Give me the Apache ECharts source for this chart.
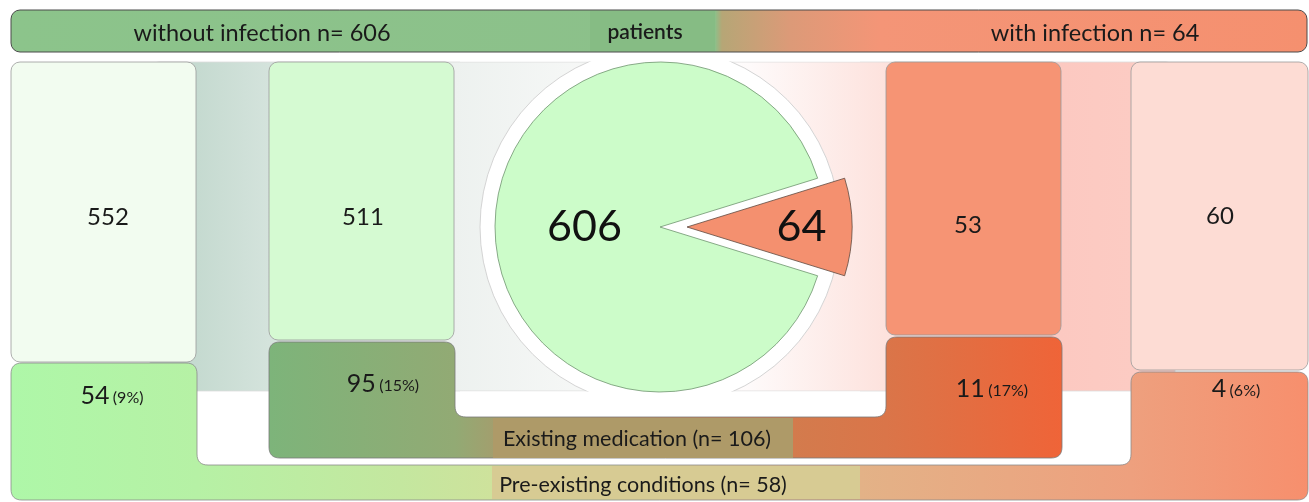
<!DOCTYPE html>
<html>
<head>
<meta charset="utf-8">
<script src="https://cdn.jsdelivr.net/npm/echarts@6/dist/echarts.min.js"></script>
<style>
  html, body { margin: 0; padding: 0; background: #ffffff; }
  #chart { width: 1309px; height: 502px; }
</style>
</head>
<body>
<div id="chart"></div>
<script>
// Patient groups and counts
const groupNames = ['without infection', 'with infection'];
const patientTotals = [606, 64];
const withoutCondition = [552, 60];
const withCondition = [54, 4];
const conditionPct = [9, 6];
const withoutMedication = [511, 53];
const withMedication = [95, 11];
const medicationPct = [15, 17];

const medicationTotal = withMedication[0] + withMedication[1];
const conditionTotal = withCondition[0] + withCondition[1];
const patientSum = patientTotals[0] + patientTotals[1];

const FONT = 'Lato, "Open Sans", sans-serif';
const INK = '#1a1a1a';

const chart = echarts.init(document.getElementById('chart'), null, { renderer: 'canvas' });

// Polygon with rounded corners (quadratic curve at each vertex)
function roundPoly(pts, r) {
  const out = [];
  const n = pts.length;
  for (let i = 0; i < n; i++) {
    const p = pts[i], a = pts[(i - 1 + n) % n], b = pts[(i + 1) % n];
    const la = Math.hypot(a[0] - p[0], a[1] - p[1]);
    const lb = Math.hypot(b[0] - p[0], b[1] - p[1]);
    const rr = Math.min(r, la / 2, lb / 2);
    const s = [p[0] + (a[0] - p[0]) / la * rr, p[1] + (a[1] - p[1]) / la * rr];
    const e = [p[0] + (b[0] - p[0]) / lb * rr, p[1] + (b[1] - p[1]) / lb * rr];
    for (let k = 0; k <= 8; k++) {
      const t = k / 8, u = 1 - t;
      out.push([u * u * s[0] + 2 * u * t * p[0] + t * t * e[0],
                u * u * s[1] + 2 * u * t * p[1] + t * t * e[1]]);
    }
  }
  return out;
}

function hGrad(x0, x1, stops) {
  return new echarts.graphic.LinearGradient(x0, 0, x1, 0,
    stops.map(s => ({ offset: (s[0] - x0) / (x1 - x0), color: s[1] })), true);
}

function box(x, y, w, h, fill, r) {
  return {
    type: 'rect', silent: true,
    shape: { x: x, y: y, width: w, height: h, r: r == null ? 9 : r },
    style: { fill: fill, stroke: '#9a9a9a', lineWidth: 0.8 }
  };
}

function plain(x, y, w, h, fill) {
  return {
    type: 'rect', silent: true,
    shape: { x: x, y: y, width: w, height: h },
    style: { fill: fill }
  };
}

function txt(x, y, text, size, extra) {
  return {
    type: 'text', silent: true, z: 10,
    style: Object.assign({
      x: x, y: y, text: text, fontSize: size, fontFamily: FONT,
      fill: INK, align: 'center', verticalAlign: 'middle'
    }, extra || {})
  };
}

function countWithPct(x, y, count, pct) {
  return {
    type: 'text', silent: true, z: 10,
    style: {
      x: x, y: y, text: '{a|' + count + '} {b|(' + pct + '%)}',
      align: 'center', verticalAlign: 'middle', fill: INK,
      rich: {
        a: { fontSize: 25, fontFamily: FONT, fill: INK, lineHeight: 28, verticalAlign: 'bottom' },
        b: { fontSize: 16, fontFamily: FONT, fill: INK, lineHeight: 28, verticalAlign: 'bottom', padding: [0, 0, 2, 0] }
      }
    }
  };
}

const elements = [];

// Backdrop panels behind the boxes
elements.push({
  type: 'rect', silent: true,
  shape: { x: 150, y: 62, width: 460, height: 329, r: 9 },
  style: {
    fill: hGrad(196, 610, [[196, '#c5dad0'], [269, '#d4e3dc'], [455, '#edf1ef'], [610, '#f8f9f8']]),
    stroke: '#dcdcdc', lineWidth: 0.8
  }
});
elements.push({
  type: 'rect', silent: true,
  shape: { x: 715, y: 62, width: 460, height: 329, r: 9 },
  style: {
    fill: hGrad(715, 1175, [[715, '#ffffff'], [750, '#fefafa'], [886, '#fde2dd'], [1062, '#fcc9c1'], [1131, '#fccbc3']]),
    stroke: '#dcdcdc', lineWidth: 0.8
  }
});
// White ring around the pie, trimmed to the panel height
elements.push({
  type: 'circle', silent: true,
  shape: { cx: 660, cy: 227, r: 180 },
  style: { fill: '#ffffff', stroke: '#d4d4d4', lineWidth: 1 }
});
elements.push(plain(460, 40, 400, 21.6, '#ffffff'));
elements.push(plain(460, 391.4, 400, 30, '#ffffff'));

// Boxes: without pre-existing condition / without medication
elements.push(box(11, 62, 185, 300, '#f2fcf0'));
elements.push(box(269, 62, 185, 278, '#d5fad2'));
elements.push(box(886, 62, 175, 273, '#f69474'));
elements.push(box(1131, 62, 177, 308, '#fddcd4'));

// Pre-existing conditions band
elements.push({
  type: 'polygon', silent: true,
  shape: { points: roundPoly([[11, 363], [197, 363], [197, 465], [1131, 465], [1131, 372], [1308, 372], [1308, 500], [11, 500]], 11) },
  style: {
    fill: hGrad(11, 1308, [[11, '#aef7a8'], [197, '#b6f1a5'], [400, '#c4e79f'], [492, '#cee29c'], [860, '#e3b287'], [1131, '#eea07e'], [1308, '#f78f6d']]),
    stroke: '#8a8a8a', lineWidth: 0.8
  }
});
elements.push(plain(492, 466, 368, 33, '#d7cb93'));

// Existing medication band
elements.push({
  type: 'polygon', silent: true,
  shape: { points: roundPoly([[269, 342], [455, 342], [455, 417], [886, 417], [886, 337], [1062, 337], [1062, 458], [269, 458]], 11) },
  style: {
    fill: hGrad(269, 1062, [[269, '#7db47a'], [455, '#92aa74'], [493, '#a29f6e'], [793, '#d37b4d'], [886, '#da7549'], [1062, '#ef6438']]),
    stroke: '#7a7a7a', lineWidth: 0.8
  }
});
elements.push(plain(493, 418, 300, 40, '#ae9a68'));

// Header bar
elements.push({
  type: 'rect', silent: true,
  shape: { x: 11, y: 10, width: 1296, height: 42, r: 9 },
  style: {
    fill: hGrad(11, 1307, [[11, '#8cc48b'], [715, '#8cc08a'], [722, '#b6a676'], [790, '#dc9a78'], [880, '#f49577'], [1307, '#f5906f']]),
    stroke: '#4a4a4a', lineWidth: 1
  }
});
elements.push(plain(590, 11, 125, 40, '#86bc84'));

// Header texts
elements.push(txt(262, 33, groupNames[0] + ' n= ' + patientTotals[0], 23.5));
elements.push(txt(645, 32, 'patients', 21, { fontWeight: 600 }));
elements.push(txt(1095, 33, groupNames[1] + ' n= ' + patientTotals[1], 23.5));

// Box counts
elements.push(txt(108, 217, String(withoutCondition[0]), 24));
elements.push(txt(363, 217, String(withoutMedication[0]), 24));
elements.push(txt(968, 225, String(withoutMedication[1]), 24));
elements.push(txt(1220, 216, String(withoutCondition[1]), 24));

// Counts with share
elements.push(countWithPct(112, 394, withCondition[0], conditionPct[0]));
elements.push(countWithPct(383, 382, withMedication[0], medicationPct[0]));
elements.push(countWithPct(992, 387, withMedication[1], medicationPct[1]));
elements.push(countWithPct(1236, 387, withCondition[1], conditionPct[1]));

// Band titles
elements.push(txt(637, 439, 'Existing medication (n= ' + medicationTotal + ')', 21.5));
elements.push(txt(643, 485, 'Pre-existing conditions (n= ' + conditionTotal + ')', 21.5));

const option = {
  animation: false,
  backgroundColor: '#ffffff',
  graphic: { elements: elements },
  series: [{
    type: 'pie',
    center: [660, 227],
    radius: 165,
    startAngle: 360 * patientTotals[1] / patientSum / 2,
    clockwise: true,
    selectedMode: 'single',
    selectedOffset: 27,
    z: 5,
    emphasis: { disabled: true },
    labelLine: { show: false },
    label: {
      show: true, position: 'inner', formatter: '{c}',
      fontSize: 43, fontFamily: FONT, color: '#111111'
    },
    data: [
      {
        value: patientTotals[1], name: groupNames[1], selected: true,
        itemStyle: { color: '#f4906f', borderColor: '#5f4a40', borderWidth: 0.8 },
        label: { padding: [0, 0, 0, 58] }
      },
      {
        value: patientTotals[0], name: groupNames[0],
        itemStyle: { color: '#ccfcc9', borderColor: '#6e946e', borderWidth: 0.8 },
        label: { padding: [0, 0, 0, 20] }
      }
    ]
  }]
};

chart.setOption(option);
</script>
</body>
</html>
